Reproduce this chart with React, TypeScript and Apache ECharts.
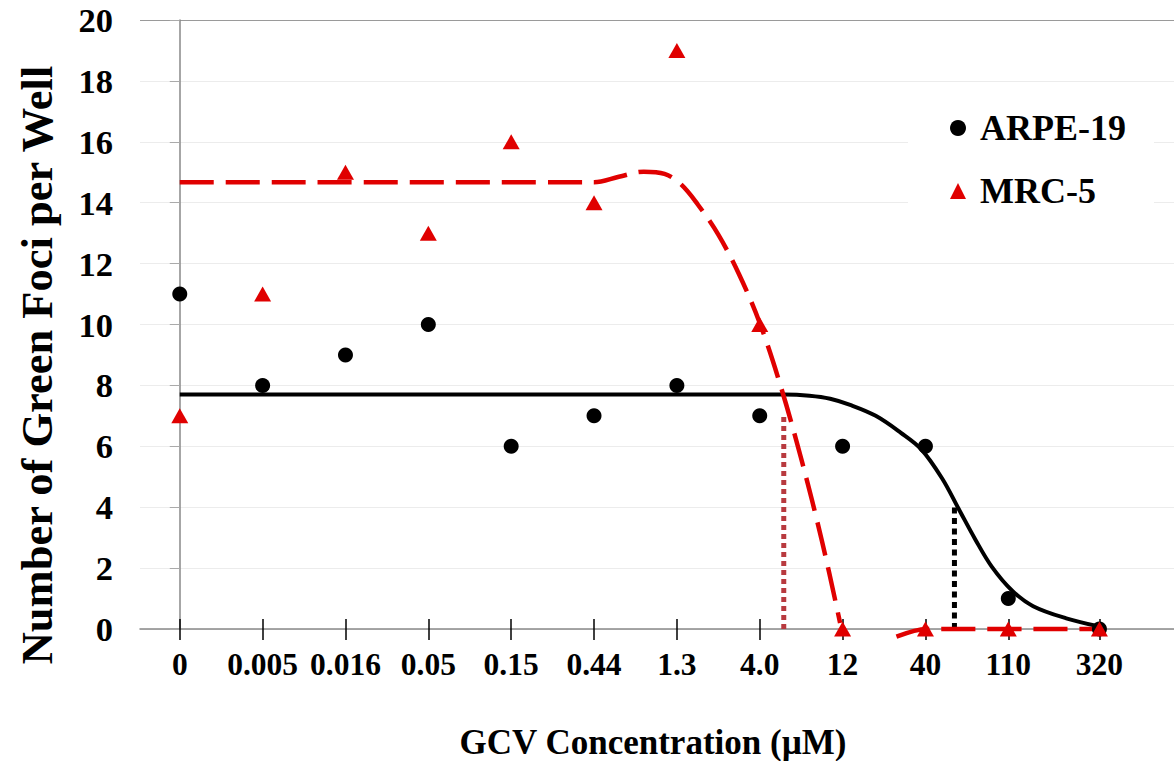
import React, { useEffect, useRef } from "react";
import * as echarts from "echarts";

// Category labels and their positions along the x axis
const xLabels = ["0", "0.005", "0.016", "0.05", "0.15", "0.44", "1.3", "4.0", "12", "40", "110", "320"];
const xPositions = [0, 1, 2, 3, 4, 5, 6, 7, 8, 9, 10, 11.1];

// Observed points
const arpeValues = [11, 8, 9, 10, 6, 7, 8, 7, 6, 6, 1, 0];
const mrcValues = [7, 11, 15, 13, 16, 14, 19, 10, 0, 0, 0, 0];

// Fitted curves
const arpeFitX = [0, 7.3, 7.6, 7.85, 8.1, 8.4, 8.7, 8.95, 9.2, 9.4, 9.6, 9.8, 10.05, 10.3, 10.7, 11.1];
const arpeFitY = [7.7, 7.7, 7.66, 7.56, 7.35, 7.0, 6.45, 5.9, 4.95, 3.95, 2.95, 2.05, 1.25, 0.75, 0.35, 0.08];

const mrcFitX = [0, 5.0, 5.3, 5.6, 5.85, 6.05, 6.25, 6.5, 6.75, 7.0, 7.25, 7.5, 7.75, 7.97];
const mrcFitY = [14.67, 14.67, 14.85, 15.02, 14.95, 14.6, 13.95, 12.95, 11.65, 10.05, 8.0, 5.6, 2.9, 0.2];

const mrcTailX = [8.65, 9.01, 11.1];
const mrcTailY = [-0.25, 0, 0];

// IC50 markers
const arpeIc50 = { x: 9.35, top: 4.0 };
const mrcIc50 = { x: 7.29, top: 7.0 };

const yTicks = { min: 0, max: 20, interval: 2 };

const FONT = '"Liberation Serif", "Times New Roman", serif';
const RED = "#e00000";

const zip = (xs: number[], ys: number[]) => xs.map((x, i) => [x, ys[i]]);

export default function App() {
  const ref = useRef<HTMLDivElement>(null);
  useEffect(() => {
    if (!ref.current) return;
    const chart = echarts.init(ref.current, undefined, { renderer: "svg" });
    const labelFor = (v: number) => {
      const i = xPositions.findIndex((p) => Math.abs(p - v) < 1e-6);
      return i >= 0 ? xLabels[i] : "";
    };
    const gridColors = Array.from({ length: 11 }, (_, i) => (i === 10 ? "#9a9a9a" : "#ececec"));
    chart.setOption({
      animation: false,
      backgroundColor: "#fff",
      grid: { left: 140, top: 20, right: 0, bottom: 132, containLabel: false },
      xAxis: [
        {
          type: "value",
          min: -0.48,
          max: 12,
          axisLine: { show: true, lineStyle: { color: "#888", width: 1.5 } },
          axisTick: { show: true, customValues: xPositions, length: 11, lineStyle: { color: "#000", width: 1.5 } },
          axisLabel: {
            customValues: xPositions,
            formatter: labelFor,
            fontSize: 31.5,
            fontWeight: "bold",
            fontFamily: FONT,
            color: "#000",
            margin: 19,
          },
          splitLine: { show: false },
        },
        {
          type: "value",
          position: "bottom",
          min: -0.48,
          max: 12,
          axisLine: { show: false },
          axisTick: { show: true, inside: true, customValues: xPositions, length: 10, lineStyle: { color: "#000", width: 1.5 } },
          axisLabel: { show: false },
          splitLine: { show: false },
        },
      ],
      yAxis: {
        type: "value",
        min: yTicks.min,
        max: yTicks.max,
        interval: yTicks.interval,
        axisLine: { show: true, lineStyle: { color: "#888", width: 1.5 } },
        axisTick: { show: true, length: 10, lineStyle: { color: "#aaa" } },
        axisLabel: { fontSize: 34.5, fontWeight: "bold", fontFamily: FONT, color: "#000", margin: 27 },
        splitLine: { show: true, lineStyle: { color: gridColors, width: 1 } },
      },
      legend: {
        orient: "vertical",
        left: 908,
        top: 99,
        padding: [11, 28, 12, 42],
        backgroundColor: "#fff",
        itemWidth: 16,
        itemHeight: 16,
        itemGap: 27,
        textStyle: { fontSize: 36, fontWeight: "bold", fontFamily: FONT, color: "#000", padding: [0, 0, 0, 9] },
        data: [
          { name: "ARPE-19", icon: "circle", itemStyle: { color: "#000", opacity: 1 } },
          { name: "MRC-5", icon: "triangle", itemStyle: { color: RED, opacity: 1 } },
        ],
      },
      graphic: [
        {
          type: "text",
          x: 37,
          y: 365,
          rotation: Math.PI / 2,
          style: {
            text: "Number of Green Foci per Well",
            font: `bold 44.5px ${FONT}`,
            fill: "#000",
            textAlign: "center",
            textVerticalAlign: "middle",
          },
        },
        {
          type: "text",
          x: 653,
          y: 742,
          style: {
            text: "GCV Concentration (\u00b5M)",
            font: `bold 35px ${FONT}`,
            fill: "#000",
            textAlign: "center",
            textVerticalAlign: "middle",
          },
        },
      ],
      series: [
        {
          name: "ARPE-19 fit",
          type: "line",
          data: zip(arpeFitX, arpeFitY),
          smooth: 0.35,
          symbol: "none",
          lineStyle: { color: "#000", width: 4 },
          z: 2,
        },
        {
          name: "MRC-5 fit",
          type: "line",
          data: zip(mrcFitX, mrcFitY),
          smooth: 0.35,
          symbol: "none",
          lineStyle: { color: RED, width: 4.5, type: [34, 12] },
          z: 2,
        },
        {
          name: "MRC-5 fit tail",
          type: "line",
          data: zip(mrcTailX, mrcTailY),
          smooth: 0.3,
          clip: false,
          symbol: "none",
          lineStyle: { color: RED, width: 4.5, type: [34, 12] },
          z: 2,
        },
        {
          name: "ARPE-19 IC50",
          type: "line",
          data: [
            [arpeIc50.x, 0],
            [arpeIc50.x, arpeIc50.top],
          ],
          symbol: "none",
          lineStyle: { color: "#000", width: 5, type: [6, 4.5] },
          z: 1,
        },
        {
          name: "MRC-5 IC50",
          type: "line",
          data: [
            [mrcIc50.x, 0],
            [mrcIc50.x, mrcIc50.top],
          ],
          symbol: "none",
          lineStyle: { color: "#b83a3f", width: 5, type: [5, 4] },
          z: 1,
        },
        {
          name: "ARPE-19",
          type: "scatter",
          data: zip(xPositions, arpeValues),
          symbol: "circle",
          symbolSize: 15,
          itemStyle: { color: "#000", opacity: 1 },
          clip: false,
          z: 3,
        },
        {
          name: "MRC-5",
          type: "scatter",
          data: zip(xPositions, mrcValues),
          symbol: "triangle",
          symbolSize: [17, 15],
          itemStyle: { color: RED, opacity: 1 },
          clip: false,
          z: 4,
        },
      ],
    });
    return () => chart.dispose();
  }, []);
  return <div ref={ref} style={{ position: "fixed", left: 0, top: 0, width: 1174, height: 761 }} />;
}
